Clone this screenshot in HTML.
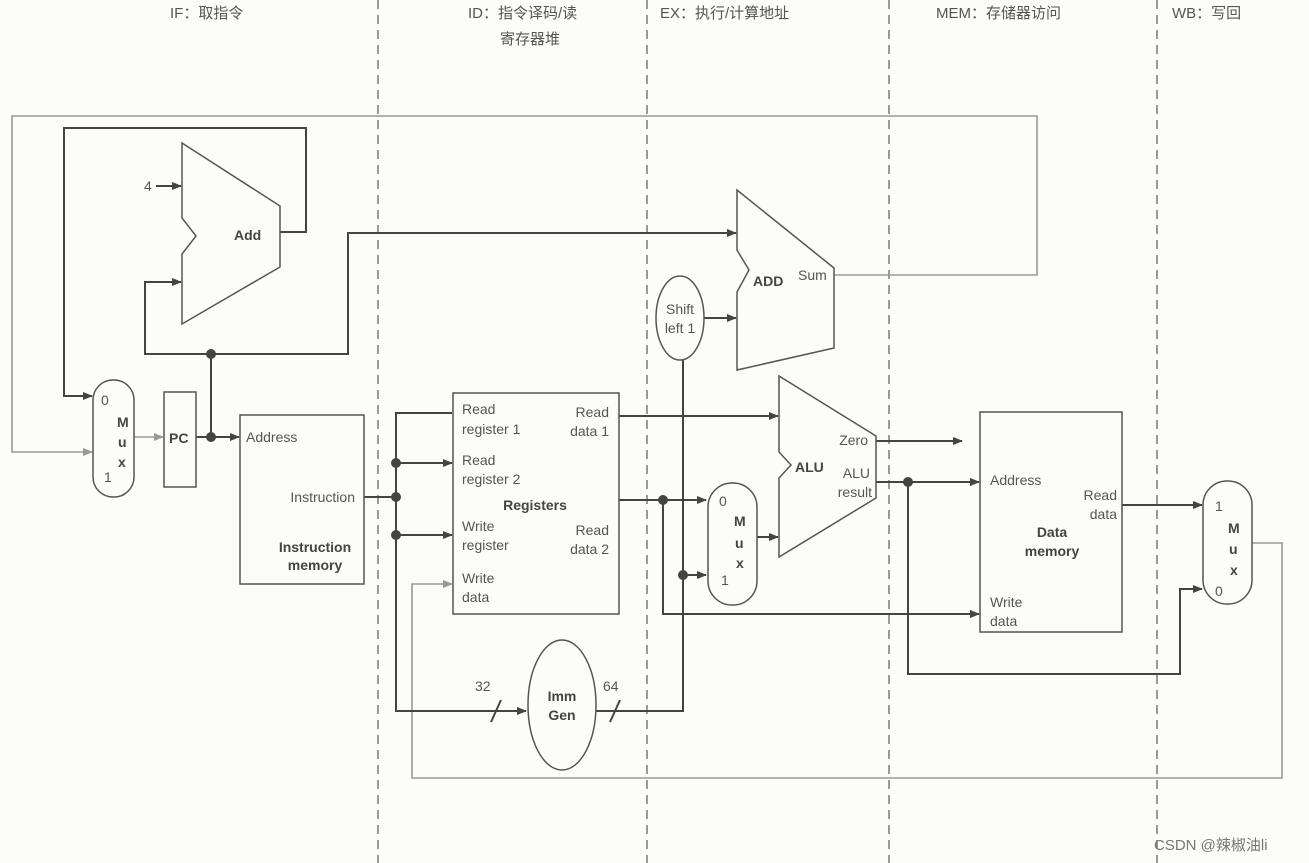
<!DOCTYPE html>
<html><head><meta charset="utf-8"><style>
html,body{margin:0;padding:0;background:#fcfcfa;}
svg{display:block;font-family:"Liberation Sans","Noto Sans CJK SC",sans-serif;}
.t{font-size:14px;fill:#555;}
.b{font-size:14px;fill:#444;font-weight:bold;}
.h{font-size:15px;fill:#555;}
</style></head><body>
<svg width="1309" height="863" viewBox="0 0 1309 863">
<defs>
<marker id="a" markerWidth="10" markerHeight="8" refX="9" refY="4" orient="auto" markerUnits="userSpaceOnUse"><path d="M0,0 L10,4 L0,8 z" fill="#444"/></marker>
<marker id="g" markerWidth="10" markerHeight="8" refX="9" refY="4" orient="auto" markerUnits="userSpaceOnUse"><path d="M0,0 L10,4 L0,8 z" fill="#999"/></marker>
</defs>
<g stroke="#666" stroke-width="1.3" stroke-dasharray="9,6">
<line x1="378" y1="0" x2="378" y2="863"/><line x1="647" y1="0" x2="647" y2="863"/>
<line x1="889" y1="0" x2="889" y2="863"/><line x1="1157" y1="0" x2="1157" y2="863"/>
</g>
<text class="h" x="170" y="18">IF：取指令</text>
<text class="h" x="468" y="18">ID：指令译码/读</text>
<text class="h" x="500" y="44">寄存器堆</text>
<text class="h" x="660" y="18">EX：执行/计算地址</text>
<text class="h" x="936" y="18">MEM：存储器访问</text>
<text class="h" x="1172" y="18">WB：写回</text>

<g fill="none" stroke="#999" stroke-width="1.6">
<polyline points="834,275 1037,275 1037,116 12,116 12,452 92,452" marker-end="url(#g)"/>
<line x1="134" y1="437" x2="163" y2="437" marker-end="url(#g)"/>
<polyline points="1252,543 1282,543 1282,778 412,778 412,584 452,584" marker-end="url(#g)"/>
</g>
<g fill="none" stroke="#444" stroke-width="2">
<polyline points="280,232 306,232 306,128 64,128 64,396 92,396" marker-end="url(#a)"/>
<line x1="156" y1="186" x2="181" y2="186" marker-end="url(#a)"/>
<polyline points="211,354 145,354 145,282 181,282" marker-end="url(#a)"/>
<polyline points="211,354 348,354 348,233 736,233" marker-end="url(#a)"/>
<line x1="211" y1="354" x2="211" y2="437"/>
<line x1="196" y1="437" x2="239" y2="437" marker-end="url(#a)"/>
<line x1="364" y1="497" x2="396" y2="497"/>
<polyline points="452,413 396,413 396,711 526,711" marker-end="url(#a)"/>
<line x1="396" y1="463" x2="452" y2="463" marker-end="url(#a)"/>
<line x1="396" y1="535" x2="452" y2="535" marker-end="url(#a)"/>
<line x1="619" y1="416" x2="778" y2="416" marker-end="url(#a)"/>
<line x1="619" y1="500" x2="706" y2="500" marker-end="url(#a)"/>
<polyline points="663,500 663,614 979,614" marker-end="url(#a)"/>
<polyline points="596,711 683,711 683,360"/>
<line x1="683" y1="575" x2="706" y2="575" marker-end="url(#a)"/>
<line x1="704" y1="318" x2="736" y2="318" marker-end="url(#a)"/>
<line x1="757" y1="537" x2="778" y2="537" marker-end="url(#a)"/>
<line x1="876" y1="441" x2="962" y2="441" marker-end="url(#a)"/>
<line x1="876" y1="482" x2="979" y2="482" marker-end="url(#a)"/>
<polyline points="908,482 908,674 1180,674 1180,589 1202,589" marker-end="url(#a)"/>
<line x1="1122" y1="505" x2="1202" y2="505" marker-end="url(#a)"/>
<line x1="491" y1="722" x2="501" y2="700"/>
<line x1="610" y1="722" x2="620" y2="700"/>
</g>
<g fill="#444">
<circle cx="211" cy="354" r="5"/><circle cx="211" cy="437" r="5"/>
<circle cx="396" cy="463" r="5"/><circle cx="396" cy="497" r="5"/><circle cx="396" cy="535" r="5"/>
<circle cx="663" cy="500" r="5"/><circle cx="683" cy="575" r="5"/><circle cx="908" cy="482" r="5"/>
</g>
<g fill="#fcfcfa" stroke="#555" stroke-width="1.5">
<polygon points="182,143 280,206 280,267 182,324 182,254 196,236 182,218"/>
<polygon points="737,190 834,268 834,348 737,370 737,292 749,270 737,250"/>
<polygon points="779,376 876,436 876,498 779,557 779,478 791,465 779,452"/>
<rect x="93" y="380" width="41" height="117" rx="20"/>
<rect x="164" y="392" width="32" height="95"/>
<rect x="240" y="415" width="124" height="169"/>
<rect x="453" y="393" width="166" height="221"/>
<rect x="708" y="483" width="49" height="122" rx="24"/>
<rect x="980" y="412" width="142" height="220"/>
<rect x="1203" y="481" width="49" height="123" rx="24"/>
<ellipse cx="680" cy="318" rx="24" ry="42"/>
<ellipse cx="562" cy="705" rx="34" ry="65"/>
</g>
<text class="t" x="144" y="191">4</text>
<text class="b" x="234" y="240">Add</text>
<text class="t" x="101" y="405">0</text>
<text class="b" x="117" y="427">M</text><text class="b" x="118" y="447">u</text><text class="b" x="118" y="467">x</text>
<text class="t" x="104" y="482">1</text>
<text class="b" x="169" y="443">PC</text>
<text class="t" x="246" y="442">Address</text>
<text class="t" x="355" y="502" text-anchor="end">Instruction</text>
<text class="b" x="315" y="552" text-anchor="middle">Instruction</text>
<text class="b" x="315" y="570" text-anchor="middle">memory</text>
<text class="t" x="462" y="414">Read</text><text class="t" x="462" y="434">register 1</text>
<text class="t" x="462" y="465">Read</text><text class="t" x="462" y="484">register 2</text>
<text class="b" x="535" y="510" text-anchor="middle">Registers</text>
<text class="t" x="462" y="531">Write</text><text class="t" x="462" y="550">register</text>
<text class="t" x="462" y="583">Write</text><text class="t" x="462" y="602">data</text>
<text class="t" x="609" y="417" text-anchor="end">Read</text><text class="t" x="609" y="436" text-anchor="end">data 1</text>
<text class="t" x="609" y="535" text-anchor="end">Read</text><text class="t" x="609" y="554" text-anchor="end">data 2</text>
<text class="t" x="475" y="691">32</text><text class="t" x="603" y="691">64</text>
<text class="b" x="562" y="701" text-anchor="middle">Imm</text><text class="b" x="562" y="720" text-anchor="middle">Gen</text>
<text class="t" x="680" y="314" text-anchor="middle">Shift</text><text class="t" x="680" y="333" text-anchor="middle">left 1</text>
<text class="b" x="753" y="286">ADD</text>
<text class="t" x="798" y="280">Sum</text>
<text class="b" x="795" y="472">ALU</text>
<text class="t" x="868" y="445" text-anchor="end">Zero</text>
<text class="t" x="870" y="478" text-anchor="end">ALU</text>
<text class="t" x="872" y="497" text-anchor="end">result</text>
<text class="t" x="719" y="506">0</text>
<text class="b" x="734" y="526">M</text><text class="b" x="735" y="548">u</text><text class="b" x="736" y="568">x</text>
<text class="t" x="721" y="585">1</text>
<text class="t" x="990" y="485">Address</text>
<text class="t" x="1117" y="500" text-anchor="end">Read</text><text class="t" x="1117" y="519" text-anchor="end">data</text>
<text class="b" x="1052" y="537" text-anchor="middle">Data</text><text class="b" x="1052" y="556" text-anchor="middle">memory</text>
<text class="t" x="990" y="607">Write</text><text class="t" x="990" y="626">data</text>
<text class="t" x="1215" y="511">1</text>
<text class="b" x="1228" y="533">M</text><text class="b" x="1229" y="554">u</text><text class="b" x="1230" y="575">x</text>
<text class="t" x="1215" y="596">0</text>
<text x="1154" y="850" style="font-size:15px;fill:#777">CSDN @辣椒油li</text>
</svg>
</body></html>
